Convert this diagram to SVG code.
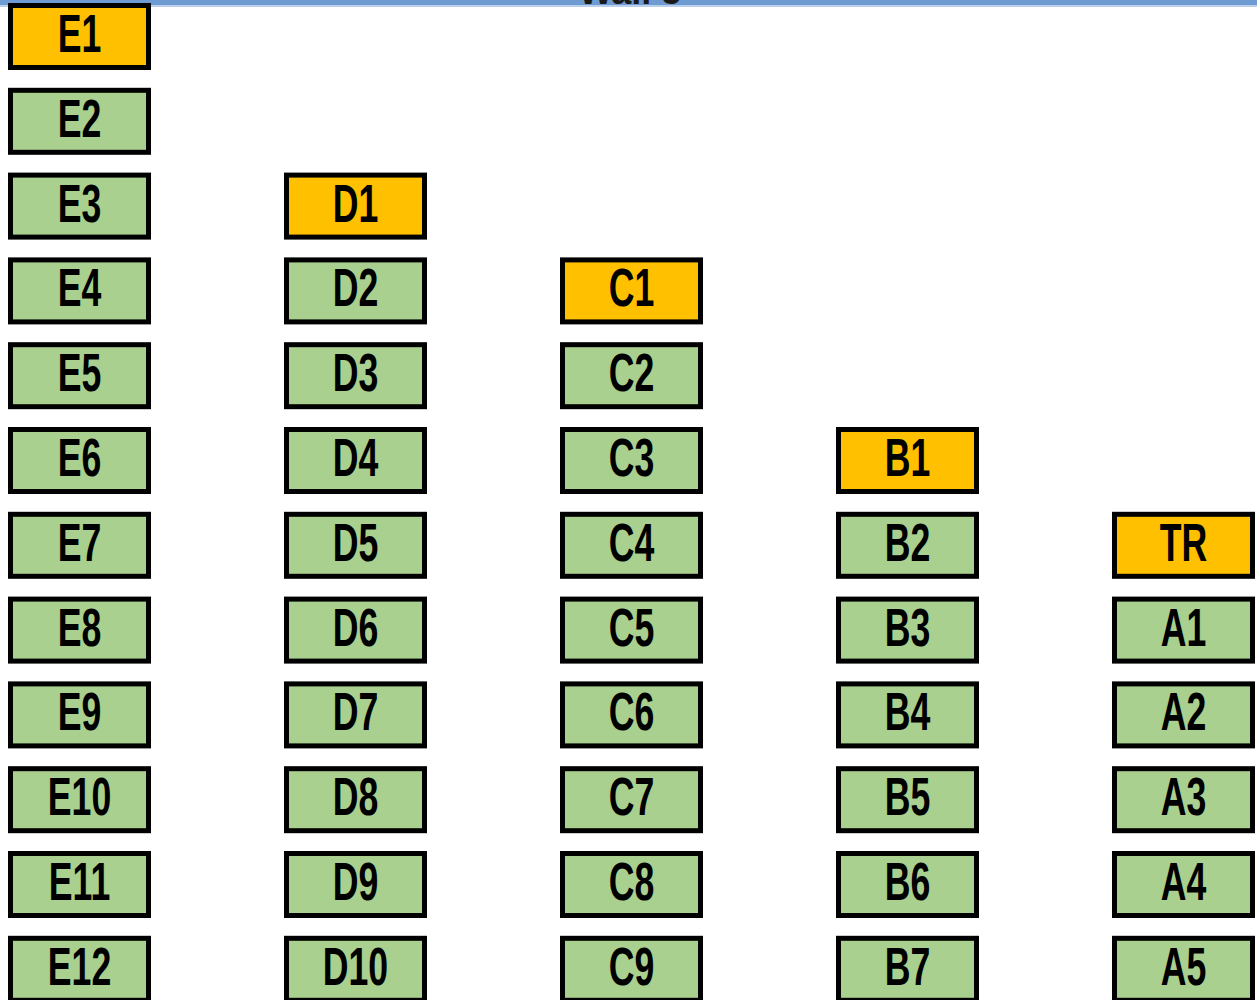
<svg xmlns="http://www.w3.org/2000/svg" width="1257" height="1000" viewBox="0 0 1257 1000">
<style>
.b{stroke:#000;stroke-width:5}
.o{fill:#FFC000}
.g{fill:#A9D08E}
.t{font-family:"Liberation Sans",Arial,sans-serif;font-weight:bold;font-size:54px;fill:#000;text-anchor:middle}
.h{font-family:"Liberation Sans",Arial,sans-serif;font-weight:bold;font-size:36px;fill:#1a1a1a;text-anchor:middle}
</style>
<rect x="0" y="0" width="1257" height="1000" fill="#fff"/>
<g id="wall">
<rect x="0" y="0" width="1257" height="5" fill="#6E9BD1"/>
<rect x="0" y="5" width="1257" height="2" fill="#B9CFEA"/>
<text class="h" x="630" y="4">Wall 5</text>
</g>
<g id="connectors"></g>
<g id="colE">
<g id="E1"><rect class="b o" x="10.5" y="5.5" width="138" height="62"/><text class="t" transform="translate(79.5,52) scale(0.66,1)">E1</text></g>
<g id="E2"><rect class="b g" x="10.5" y="90.3" width="138" height="62"/><text class="t" transform="translate(79.5,136.8) scale(0.66,1)">E2</text></g>
<g id="E3"><rect class="b g" x="10.5" y="175.1" width="138" height="62"/><text class="t" transform="translate(79.5,221.6) scale(0.66,1)">E3</text></g>
<g id="E4"><rect class="b g" x="10.5" y="259.9" width="138" height="62"/><text class="t" transform="translate(79.5,306.4) scale(0.66,1)">E4</text></g>
<g id="E5"><rect class="b g" x="10.5" y="344.7" width="138" height="62"/><text class="t" transform="translate(79.5,391.2) scale(0.66,1)">E5</text></g>
<g id="E6"><rect class="b g" x="10.5" y="429.5" width="138" height="62"/><text class="t" transform="translate(79.5,476) scale(0.66,1)">E6</text></g>
<g id="E7"><rect class="b g" x="10.5" y="514.3" width="138" height="62"/><text class="t" transform="translate(79.5,560.8) scale(0.66,1)">E7</text></g>
<g id="E8"><rect class="b g" x="10.5" y="599.1" width="138" height="62"/><text class="t" transform="translate(79.5,645.6) scale(0.66,1)">E8</text></g>
<g id="E9"><rect class="b g" x="10.5" y="683.9" width="138" height="62"/><text class="t" transform="translate(79.5,730.4) scale(0.66,1)">E9</text></g>
<g id="E10"><rect class="b g" x="10.5" y="768.7" width="138" height="62"/><text class="t" transform="translate(79.5,815.2) scale(0.66,1)">E10</text></g>
<g id="E11"><rect class="b g" x="10.5" y="853.5" width="138" height="62"/><text class="t" transform="translate(79.5,900) scale(0.66,1)">E11</text></g>
<g id="E12"><rect class="b g" x="10.5" y="938.3" width="138" height="62"/><text class="t" transform="translate(79.5,984.8) scale(0.66,1)">E12</text></g>
</g>
<g id="colD">
<g id="D1"><rect class="b o" x="286.5" y="175.1" width="138" height="62"/><text class="t" transform="translate(355.5,221.6) scale(0.66,1)">D1</text></g>
<g id="D2"><rect class="b g" x="286.5" y="259.9" width="138" height="62"/><text class="t" transform="translate(355.5,306.4) scale(0.66,1)">D2</text></g>
<g id="D3"><rect class="b g" x="286.5" y="344.7" width="138" height="62"/><text class="t" transform="translate(355.5,391.2) scale(0.66,1)">D3</text></g>
<g id="D4"><rect class="b g" x="286.5" y="429.5" width="138" height="62"/><text class="t" transform="translate(355.5,476) scale(0.66,1)">D4</text></g>
<g id="D5"><rect class="b g" x="286.5" y="514.3" width="138" height="62"/><text class="t" transform="translate(355.5,560.8) scale(0.66,1)">D5</text></g>
<g id="D6"><rect class="b g" x="286.5" y="599.1" width="138" height="62"/><text class="t" transform="translate(355.5,645.6) scale(0.66,1)">D6</text></g>
<g id="D7"><rect class="b g" x="286.5" y="683.9" width="138" height="62"/><text class="t" transform="translate(355.5,730.4) scale(0.66,1)">D7</text></g>
<g id="D8"><rect class="b g" x="286.5" y="768.7" width="138" height="62"/><text class="t" transform="translate(355.5,815.2) scale(0.66,1)">D8</text></g>
<g id="D9"><rect class="b g" x="286.5" y="853.5" width="138" height="62"/><text class="t" transform="translate(355.5,900) scale(0.66,1)">D9</text></g>
<g id="D10"><rect class="b g" x="286.5" y="938.3" width="138" height="62"/><text class="t" transform="translate(355.5,984.8) scale(0.66,1)">D10</text></g>
</g>
<g id="colC">
<g id="C1"><rect class="b o" x="562.5" y="259.9" width="138" height="62"/><text class="t" transform="translate(631.5,306.4) scale(0.66,1)">C1</text></g>
<g id="C2"><rect class="b g" x="562.5" y="344.7" width="138" height="62"/><text class="t" transform="translate(631.5,391.2) scale(0.66,1)">C2</text></g>
<g id="C3"><rect class="b g" x="562.5" y="429.5" width="138" height="62"/><text class="t" transform="translate(631.5,476) scale(0.66,1)">C3</text></g>
<g id="C4"><rect class="b g" x="562.5" y="514.3" width="138" height="62"/><text class="t" transform="translate(631.5,560.8) scale(0.66,1)">C4</text></g>
<g id="C5"><rect class="b g" x="562.5" y="599.1" width="138" height="62"/><text class="t" transform="translate(631.5,645.6) scale(0.66,1)">C5</text></g>
<g id="C6"><rect class="b g" x="562.5" y="683.9" width="138" height="62"/><text class="t" transform="translate(631.5,730.4) scale(0.66,1)">C6</text></g>
<g id="C7"><rect class="b g" x="562.5" y="768.7" width="138" height="62"/><text class="t" transform="translate(631.5,815.2) scale(0.66,1)">C7</text></g>
<g id="C8"><rect class="b g" x="562.5" y="853.5" width="138" height="62"/><text class="t" transform="translate(631.5,900) scale(0.66,1)">C8</text></g>
<g id="C9"><rect class="b g" x="562.5" y="938.3" width="138" height="62"/><text class="t" transform="translate(631.5,984.8) scale(0.66,1)">C9</text></g>
</g>
<g id="colB">
<g id="B1"><rect class="b o" x="838.5" y="429.5" width="138" height="62"/><text class="t" transform="translate(907.5,476) scale(0.66,1)">B1</text></g>
<g id="B2"><rect class="b g" x="838.5" y="514.3" width="138" height="62"/><text class="t" transform="translate(907.5,560.8) scale(0.66,1)">B2</text></g>
<g id="B3"><rect class="b g" x="838.5" y="599.1" width="138" height="62"/><text class="t" transform="translate(907.5,645.6) scale(0.66,1)">B3</text></g>
<g id="B4"><rect class="b g" x="838.5" y="683.9" width="138" height="62"/><text class="t" transform="translate(907.5,730.4) scale(0.66,1)">B4</text></g>
<g id="B5"><rect class="b g" x="838.5" y="768.7" width="138" height="62"/><text class="t" transform="translate(907.5,815.2) scale(0.66,1)">B5</text></g>
<g id="B6"><rect class="b g" x="838.5" y="853.5" width="138" height="62"/><text class="t" transform="translate(907.5,900) scale(0.66,1)">B6</text></g>
<g id="B7"><rect class="b g" x="838.5" y="938.3" width="138" height="62"/><text class="t" transform="translate(907.5,984.8) scale(0.66,1)">B7</text></g>
</g>
<g id="colA">
<g id="TR"><rect class="b o" x="1114.5" y="514.3" width="138" height="62"/><text class="t" transform="translate(1183.5,560.8) scale(0.66,1)">TR</text></g>
<g id="A1"><rect class="b g" x="1114.5" y="599.1" width="138" height="62"/><text class="t" transform="translate(1183.5,645.6) scale(0.66,1)">A1</text></g>
<g id="A2"><rect class="b g" x="1114.5" y="683.9" width="138" height="62"/><text class="t" transform="translate(1183.5,730.4) scale(0.66,1)">A2</text></g>
<g id="A3"><rect class="b g" x="1114.5" y="768.7" width="138" height="62"/><text class="t" transform="translate(1183.5,815.2) scale(0.66,1)">A3</text></g>
<g id="A4"><rect class="b g" x="1114.5" y="853.5" width="138" height="62"/><text class="t" transform="translate(1183.5,900) scale(0.66,1)">A4</text></g>
<g id="A5"><rect class="b g" x="1114.5" y="938.3" width="138" height="62"/><text class="t" transform="translate(1183.5,984.8) scale(0.66,1)">A5</text></g>
</g>
</svg>
